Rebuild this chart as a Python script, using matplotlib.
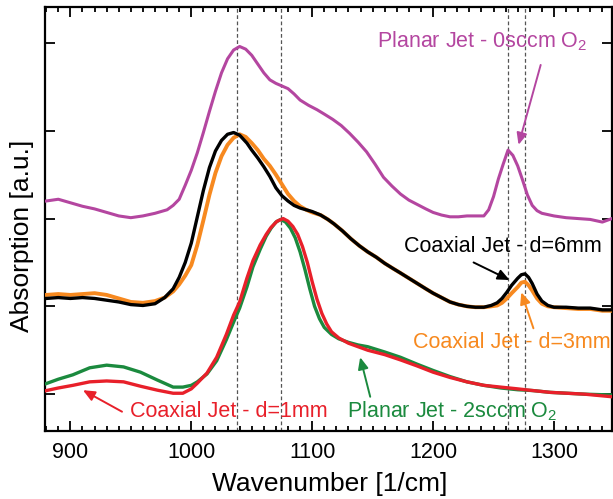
import numpy as np
import matplotlib
matplotlib.use("Agg")
import matplotlib.pyplot as plt
from matplotlib.ticker import MultipleLocator, NullFormatter

plt.rcParams['font.family'] = ['Liberation Sans', 'DejaVu Sans']
plt.rcParams['mathtext.default'] = 'regular'

# Planar jet, 0 sccm O2
wn_p0 = [880, 890, 900, 910, 920, 930, 940, 950, 960, 970, 980, 985, 990, 995,
         1000, 1005, 1010, 1015, 1020, 1025, 1030, 1035, 1040, 1045, 1050, 1055,
         1060, 1065, 1070, 1075, 1080, 1085, 1090, 1097, 1104, 1110, 1117, 1124,
         1131, 1138, 1145, 1152, 1159, 1166, 1173, 1180, 1187, 1194, 1200, 1207,
         1214, 1221, 1228, 1235, 1242, 1246, 1250, 1254, 1258, 1262, 1266, 1270,
         1274, 1278, 1282, 1286, 1290, 1300, 1310, 1320, 1330, 1340, 1348]
ab_p0 = [2.20, 2.22, 2.18, 2.14, 2.11, 2.07, 2.03, 2.01, 2.03, 2.06, 2.10, 2.15,
         2.22, 2.38, 2.55, 2.75, 2.98, 3.22, 3.45, 3.66, 3.82, 3.92, 3.96, 3.93,
         3.86, 3.76, 3.66, 3.58, 3.54, 3.51, 3.48, 3.42, 3.35, 3.29, 3.24, 3.19,
         3.13, 3.06, 2.97, 2.87, 2.76, 2.62, 2.47, 2.37, 2.28, 2.21, 2.16, 2.11,
         2.07, 2.04, 2.02, 2.02, 2.03, 2.03, 2.03, 2.10, 2.25, 2.45, 2.62, 2.78,
         2.72, 2.60, 2.44, 2.27, 2.15, 2.09, 2.06, 2.03, 2.01, 2.00, 1.99, 1.96,
         2.00]

# Coaxial jet, d = 6 mm
wn_c6 = [880, 890, 900, 910, 920, 930, 940, 950, 960, 970, 978, 985, 990, 995,
         1000, 1005, 1010, 1015, 1020, 1025, 1030, 1035, 1040, 1046, 1050, 1055,
         1060, 1065, 1070, 1075, 1080, 1085, 1090, 1095, 1100, 1107, 1113, 1118,
         1125, 1132, 1139, 1146, 1153, 1160, 1167, 1173, 1180, 1187, 1194, 1200,
         1207, 1214, 1221, 1228, 1235, 1242, 1248, 1253, 1257, 1261, 1265, 1270,
         1273, 1276, 1279, 1282, 1286, 1290, 1295, 1300, 1310, 1320, 1330, 1340,
         1348]
ab_c6 = [1.09, 1.10, 1.09, 1.10, 1.09, 1.07, 1.05, 1.02, 1.01, 1.03, 1.10, 1.20,
         1.33, 1.50, 1.72, 2.02, 2.32, 2.58, 2.77, 2.89, 2.96, 2.98, 2.95, 2.86,
         2.78, 2.69, 2.59, 2.48, 2.35, 2.26, 2.20, 2.15, 2.12, 2.10, 2.08, 2.04,
         1.99, 1.94, 1.86, 1.77, 1.69, 1.62, 1.56, 1.49, 1.43, 1.38, 1.32, 1.26,
         1.20, 1.15, 1.10, 1.05, 1.02, 1.00, 0.99, 0.99, 1.01, 1.04, 1.09, 1.16,
         1.24, 1.32, 1.36, 1.37, 1.33, 1.26, 1.14, 1.06, 1.01, 0.99, 0.99, 0.98,
         0.98, 0.96, 0.96]

# Coaxial jet, d = 3 mm
wn_c3 = [880, 890, 900, 910, 920, 930, 940, 950, 960, 970, 978, 985, 990, 995,
         1000, 1005, 1010, 1015, 1020, 1025, 1030, 1035, 1040, 1045, 1050, 1055,
         1060, 1065, 1070, 1075, 1080, 1085, 1090, 1095, 1100, 1107, 1113, 1118,
         1125, 1132, 1139, 1146, 1153, 1160, 1167, 1173, 1180, 1187, 1194, 1200,
         1207, 1214, 1221, 1228, 1235, 1242, 1248, 1253, 1257, 1261, 1265, 1270,
         1273, 1276, 1279, 1282, 1286, 1290, 1295, 1300, 1310, 1320, 1330, 1340,
         1348]
ab_c3 = [1.13, 1.14, 1.13, 1.14, 1.15, 1.13, 1.09, 1.05, 1.04, 1.06, 1.10, 1.17,
         1.25, 1.35, 1.47, 1.70, 1.98, 2.27, 2.52, 2.71, 2.84, 2.92, 2.96, 2.93,
         2.86, 2.78, 2.68, 2.60, 2.50, 2.39, 2.28, 2.20, 2.14, 2.10, 2.07, 2.04,
         1.99, 1.94, 1.86, 1.77, 1.69, 1.62, 1.56, 1.49, 1.43, 1.38, 1.32, 1.26,
         1.20, 1.15, 1.10, 1.05, 1.02, 1.00, 0.99, 0.99, 1.00, 1.01, 1.04, 1.09,
         1.15, 1.22, 1.27, 1.28, 1.24, 1.18, 1.09, 1.03, 1.00, 0.99, 0.98, 0.97,
         0.97, 0.95, 0.95]

# Coaxial jet, d = 1 mm
wn_c1 = [880, 890, 902, 916, 930, 944, 958, 972, 985, 993, 1000, 1005, 1013,
         1021, 1029, 1035, 1040, 1046, 1051, 1057, 1062, 1066, 1071, 1076, 1080,
         1084, 1088, 1092, 1096, 1100, 1104, 1108, 1112, 1116, 1122, 1130, 1138,
         1146, 1160, 1173, 1187, 1200, 1214, 1228, 1242, 1256, 1270, 1283, 1297,
         1311, 1325, 1348]
ab_c1 = [0.04, 0.07, 0.10, 0.14, 0.15, 0.14, 0.09, 0.045, 0.01, 0.01, 0.06,
         0.125, 0.24, 0.42, 0.68, 0.90, 1.05, 1.32, 1.52, 1.70, 1.82, 1.90, 1.97,
         2.00, 1.97, 1.91, 1.82, 1.68, 1.50, 1.28, 1.08, 0.92, 0.80, 0.71, 0.64,
         0.58, 0.54, 0.50, 0.45, 0.39, 0.32, 0.25, 0.19, 0.14, 0.10, 0.08, 0.06,
         0.04, 0.02, 0.01, 0.00, -0.03]

# Planar jet, 2 sccm O2
wn_p2 = [880, 890, 902, 916, 930, 944, 958, 972, 985, 993, 1000, 1005, 1013,
         1021, 1029, 1035, 1040, 1046, 1051, 1057, 1062, 1066, 1070, 1074, 1078,
         1082, 1086, 1090, 1094, 1098, 1102, 1106, 1110, 1116, 1122, 1130, 1138,
         1146, 1160, 1173, 1187, 1200, 1214, 1228, 1242, 1256, 1270, 1283, 1297,
         1311, 1325, 1348]
ab_p2 = [0.12, 0.17, 0.22, 0.30, 0.33, 0.31, 0.25, 0.16, 0.08, 0.08, 0.10, 0.14,
         0.23, 0.38, 0.62, 0.82, 0.98, 1.22, 1.45, 1.65, 1.80, 1.89, 1.96, 1.99,
         1.96, 1.89, 1.78, 1.62, 1.42, 1.20, 1.00, 0.86, 0.76, 0.68, 0.63, 0.59,
         0.56, 0.54, 0.48, 0.42, 0.34, 0.27, 0.20, 0.14, 0.10, 0.07, 0.05, 0.04,
         0.02, 0.01, 0.00, -0.01]

peak_lines = [1038, 1074, 1262, 1276]

c_mag = '#B446A0'
c_org = '#F7891F'
c_red = '#E8202A'
c_grn = '#1B8A3E'

fig = plt.figure(figsize=(6.13, 4.99), dpi=100)
ax = fig.add_axes([45/613, 68/499, 567/613, 424/499])

for xv in peak_lines:
    ax.axvline(xv, color='#555555', lw=0.9, ls=(0, (3, 2)), zorder=1)

ax.plot(wn_p0, ab_p0, color=c_mag, lw=2.2, zorder=3)
ax.plot(wn_c3, ab_c3, color=c_org, lw=2.8, zorder=3)
ax.plot(wn_c6, ab_c6, color='black', lw=2.4, zorder=4)
ax.plot(wn_p2, ab_p2, color=c_grn, lw=2.4, zorder=3)
ax.plot(wn_c1, ab_c1, color=c_red, lw=2.4, zorder=4)

ax.set_xlim(879, 1348)
ax.set_ylim(-0.42, 4.41)

ax.xaxis.set_major_locator(MultipleLocator(100))
ax.xaxis.set_minor_locator(MultipleLocator(10))
ax.yaxis.set_major_locator(MultipleLocator(1))
ax.yaxis.set_major_formatter(NullFormatter())
ax.tick_params(which='both', direction='in', top=True, right=True,
               width=1.3, labelsize=15.5, pad=8)
ax.tick_params(which='major', length=7)
ax.tick_params(which='minor', length=3.5)
ax.tick_params(axis='y', which='minor', left=False, right=False)
for sp in ax.spines.values():
    sp.set_linewidth(1.6)

ax.text(0.5026, -0.1415, 'Wavenumber [1/cm]', transform=ax.transAxes,
        ha='center', va='baseline', fontsize=19)
ax.text(-0.0406, 0.461, 'Absorption [a.u.]', transform=ax.transAxes,
        ha='center', va='center', rotation=90, fontsize=19)

arrow_kw = dict(arrowstyle='-|>,head_length=0.5,head_width=0.22',
                shrinkA=0, shrinkB=0, lw=1.4, mutation_scale=14)

# labels with arrows: (text, text pos, tail, tip, colour)
notes = [
    ('Planar Jet - 0sccm O$_2$', (1241, 3.95), (1289, 3.75), (1270.7, 2.84), c_mag),
    ('Coaxial Jet - d=6mm', (1258, 1.62), (1233.5, 1.50), (1263.3, 1.30), 'black'),
    ('Coaxial Jet - d=3mm', (1265.4, 0.524), (1283, 0.75), (1273, 1.16), c_org),
    ('Coaxial Jet - d=1mm', (1031, -0.26), (942.7, -0.20), (910.4, 0.045), c_red),
    ('Planar Jet - 2sccm O$_2$', (1215.6, -0.26), (1148, -0.03), (1139.7, 0.42), c_grn),
]
for txt, pos, tail, tip, col in notes:
    ax.text(pos[0], pos[1], txt, color=col, fontsize=15.5,
            ha='center', va='baseline', zorder=6, clip_on=False)
    ax.annotate('', xy=tip, xytext=tail,
                arrowprops=dict(color=col, **arrow_kw), zorder=6)

fig.savefig('out.png', dpi=100)
